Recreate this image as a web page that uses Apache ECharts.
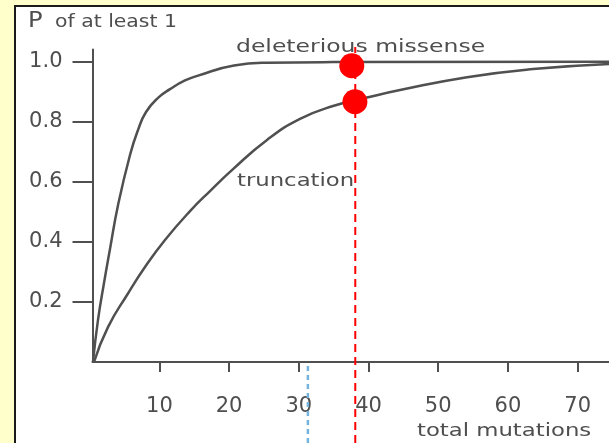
<!DOCTYPE html>
<html>
<head>
<meta charset="utf-8">
<script src="https://cdn.jsdelivr.net/npm/echarts@6/dist/echarts.min.js"></script>
<style>
  html, body { margin: 0; padding: 0; background: #ffffcc; }
  .panel {
    position: absolute; left: 14px; top: 5px; width: 595px; height: 438px;
    background: #fff; border-left: 2px solid #1a1a1a; border-top: 2px solid #1a1a1a;
  }
  #chart { position: absolute; left: 0; top: 0; width: 609px; height: 443px; }
</style>
</head>
<body>
<div class="panel"></div>
<div id="chart"></div>
<script>
// curves
const missenseX = [0.47, 1.19, 2.05, 2.91, 4.06, 5.78, 6.93, 8.08, 9.8, 11.52, 13.67, 15.54, 20.71, 25.44, 34.91, 74.5]
const missenseP = [0, 0.14, 0.263, 0.376, 0.522, 0.689, 0.772, 0.832, 0.879, 0.908, 0.937, 0.953, 0.987, 0.996, 0.998, 0.999]
const truncX = [0.62, 2.62, 5.49, 7.93, 10.8, 14.39, 17.26, 20.56, 25.44, 30.17, 34.91, 39.78, 44.52, 54.13, 63.6, 74.5]
const truncP = [0, 0.116, 0.228, 0.316, 0.406, 0.502, 0.569, 0.642, 0.739, 0.809, 0.852, 0.88, 0.905, 0.948, 0.975, 0.992]
const xTicks = [10, 20, 30, 40, 50, 60, 70]
const yTicks = [0.2, 0.4, 0.6, 0.8, 1.0]
// red annotation
const dotX = [37.6, 38.05]
const dotP = [0.986, 0.866]
const redLineX = 38.1
const blueLineX = 31.3

const gray = '#505050'
const textGray = '#4e4e4e'
const font = 'DejaVu Sans'

function pairs (xs, ys) {
  return xs.map((x, i) => [x, ys[i]])
}

let chart = echarts.init(document.getElementById('chart'))
chart.setOption({
  animation: false,
  grid: [
    { left: 92.5, right: 0, top: 49.5, bottom: 81 },
    { left: 92.5, right: 0, top: 47, bottom: 0 }
  ],
  xAxis: [{
    type: 'value',
    gridIndex: 0,
    min: 0.4,
    max: 74.5,
    splitLine: { show: false },
    axisLine: { onZero: false, lineStyle: { color: gray, width: 2 } },
    axisTick: { customValues: xTicks, length: 10, lineStyle: { color: gray, width: 2 } },
    axisLabel: { customValues: xTicks, margin: 34, color: textGray, fontSize: 21, fontFamily: font }
  }, {
    type: 'value',
    gridIndex: 1,
    min: 0.4,
    max: 74.5,
    show: false
  }],
  yAxis: [{
    type: 'value',
    gridIndex: 0,
    min: 0,
    max: 1.04,
    splitLine: { show: false },
    axisLine: { show: true, onZero: false, lineStyle: { color: gray, width: 2 } },
    axisTick: { show: true, customValues: yTicks, length: 20, lineStyle: { color: gray, width: 2 } },
    axisLabel: {
      customValues: yTicks, margin: 30, color: textGray, fontSize: 21, fontFamily: font,
      formatter: v => v.toFixed(1)
    }
  }, {
    type: 'value',
    gridIndex: 1,
    min: -0.2696,
    max: 1.048,
    show: false
  }],
  series: [{
    name: 'deleterious missense',
    type: 'line',
    data: pairs(missenseX, missenseP),
    smooth: 0.5,
    symbol: 'none',
    lineStyle: { color: gray, width: 2.5 }
  }, {
    name: 'truncation',
    type: 'line',
    data: pairs(truncX, truncP),
    smooth: 0.5,
    symbol: 'none',
    lineStyle: { color: gray, width: 2.5 }
  }, {
    type: 'line',
    xAxisIndex: 1,
    yAxisIndex: 1,
    data: [[blueLineX, -0.2696], [blueLineX, 0]],
    symbol: 'none',
    lineStyle: { color: '#74b4e0', width: 2.5, type: [5, 4] }
  }, {
    type: 'line',
    xAxisIndex: 1,
    yAxisIndex: 1,
    data: [[redLineX, -0.2696], [redLineX, 1.048]],
    symbol: 'none',
    lineStyle: { color: '#ff0000', width: 2, type: [8, 5] }
  }, {
    type: 'scatter',
    data: pairs(dotX, dotP),
    symbolSize: 25,
    itemStyle: { color: '#ff0000', opacity: 1 },
    z: 5
  }],
  graphic: [
    { type: 'text', x: 28, y: 21, scaleX: 1.1, style: { text: 'P', font: '22px "DejaVu Sans"', fill: textGray, verticalAlign: 'middle' } },
    { type: 'text', x: 55, y: 23, scaleX: 1.2, style: { text: 'of at least 1', font: '17px "DejaVu Sans"', fill: textGray, verticalAlign: 'middle' } },
    { type: 'text', x: 236, y: 47, scaleX: 1.27, style: { text: 'deleterious missense', font: '18.5px "DejaVu Sans"', fill: textGray, verticalAlign: 'middle' } },
    { type: 'text', x: 237, y: 181, scaleX: 1.23, style: { text: 'truncation', font: '18.5px "DejaVu Sans"', fill: textGray, verticalAlign: 'middle' } },
    { type: 'text', x: 417, y: 431, scaleX: 1.23, style: { text: 'total mutations', font: '18.5px "DejaVu Sans"', fill: textGray, verticalAlign: 'middle' } }
  ]
})
</script>
</body>
</html>
